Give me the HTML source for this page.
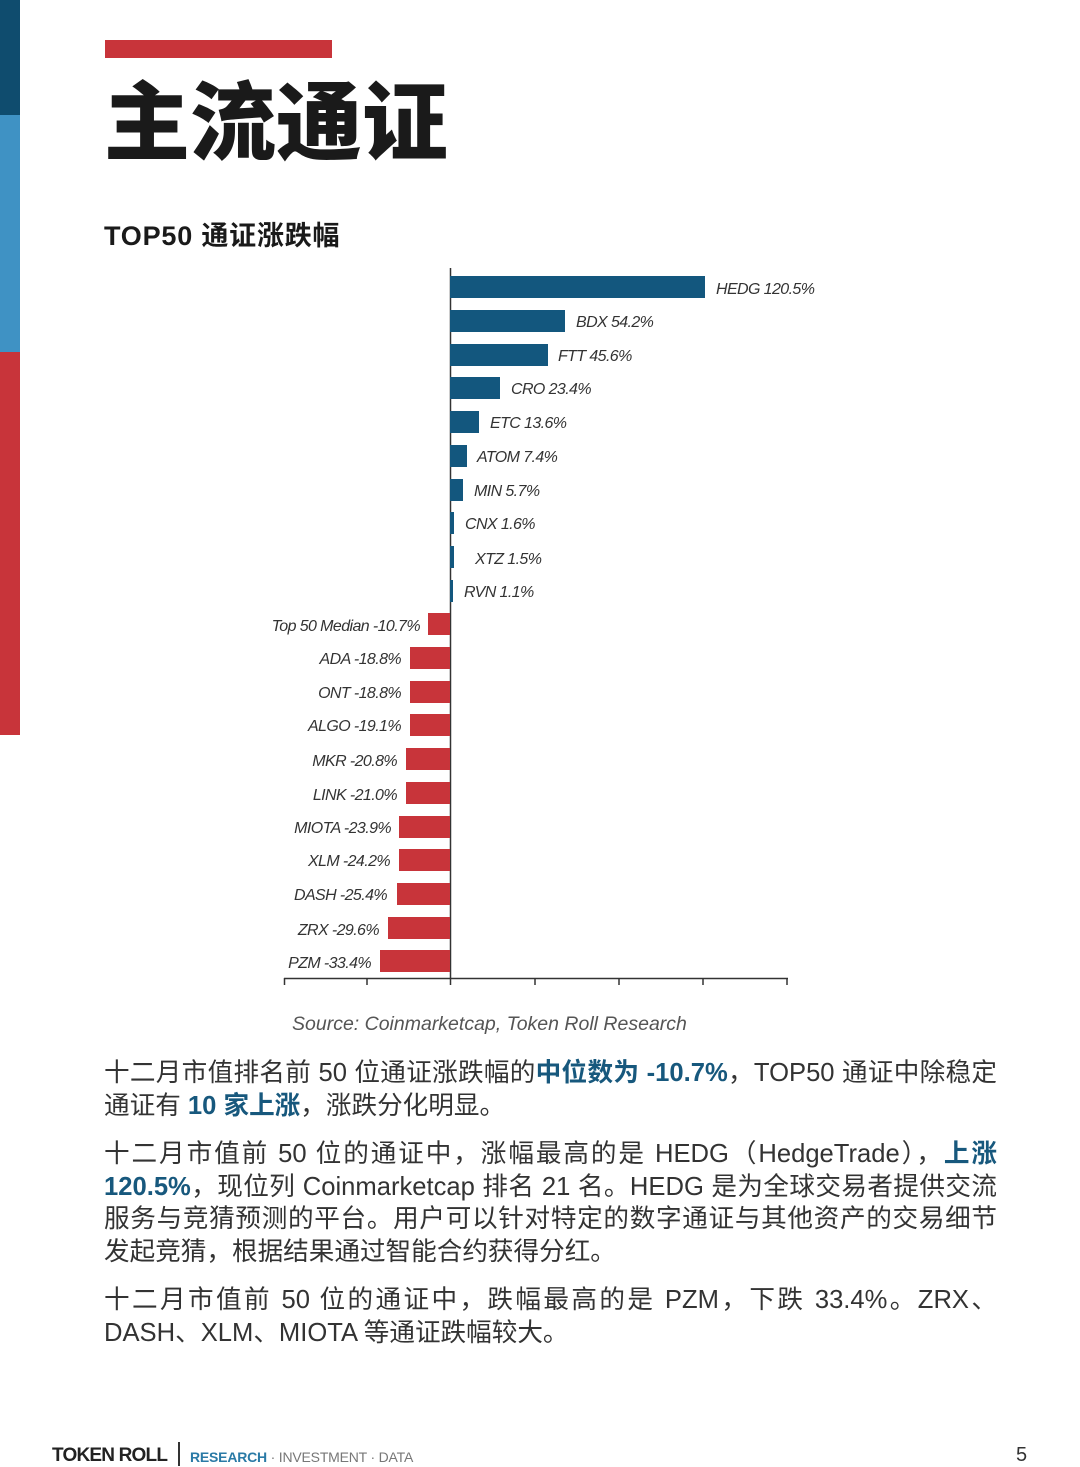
<!DOCTYPE html>
<html><head><meta charset="utf-8"><style>
body{margin:0;background:#fff;}
#p{position:relative;width:1080px;height:1467px;overflow:hidden;background:#fff;font-family:"Liberation Sans","Noto Sans CJK SC",sans-serif;}
.a{position:absolute;}
.t{position:absolute;left:104px;width:893px;font-size:25.6px;line-height:32.5px;color:#333;text-align:justify;}
.t b{color:#17587d;}
.j{display:block;text-align-last:justify;}
</style></head><body><div id="p">
<div class="a" style="left:0;top:0;width:20px;height:115px;background:#0f4c6e"></div>
<div class="a" style="left:0;top:115px;width:20px;height:237px;background:#3f92c4"></div>
<div class="a" style="left:0;top:352px;width:20px;height:383px;background:#c8343a"></div>
<div class="a" style="left:105px;top:40px;width:227px;height:18px;background:#c8343a"></div>
<div class="a" style="left:104px;top:66px;font-size:86px;font-weight:900;color:#1a1a1a;line-height:100px;font-family:'Noto Sans CJK SC',sans-serif;letter-spacing:0px">主流通证</div>
<div class="a" style="left:104px;top:214px;font-size:27px;font-weight:700;color:#1a1a1a;letter-spacing:0.8px;font-family:'Liberation Sans','Noto Sans CJK SC',sans-serif">TOP50 通证涨跌幅</div>
<svg class="a" style="left:0;top:0" width="1080" height="1467">
<line x1="450.5" y1="268" x2="450.5" y2="978" stroke="#333" stroke-width="1.5"/>
<line x1="284" y1="978.5" x2="788" y2="978.5" stroke="#333" stroke-width="1.5"/>
<g stroke="#333" stroke-width="1.5">
<line x1="284.5" y1="978" x2="284.5" y2="985"/><line x1="367" y1="978" x2="367" y2="985"/><line x1="450.5" y1="978" x2="450.5" y2="985"/><line x1="535" y1="978" x2="535" y2="985"/><line x1="619" y1="978" x2="619" y2="985"/><line x1="703" y1="978" x2="703" y2="985"/><line x1="787" y1="978" x2="787" y2="985"/>
</g>
<g font-family="Liberation Sans,sans-serif" font-style="italic" font-size="16" letter-spacing="-0.6" fill="#333">
<rect x="450" y="276" width="255" height="22" fill="#13577e"/><text x="716" y="294">HEDG 120.5%</text>
<rect x="450" y="310" width="115" height="22" fill="#13577e"/><text x="576" y="327">BDX 54.2%</text>
<rect x="450" y="344" width="98" height="22" fill="#13577e"/><text x="558" y="361">FTT 45.6%</text>
<rect x="450" y="377" width="50" height="22" fill="#13577e"/><text x="511" y="394">CRO 23.4%</text>
<rect x="450" y="411" width="29" height="22" fill="#13577e"/><text x="490" y="428">ETC 13.6%</text>
<rect x="450" y="445" width="17" height="22" fill="#13577e"/><text x="477" y="462">ATOM 7.4%</text>
<rect x="450" y="479" width="13" height="22" fill="#13577e"/><text x="474" y="496">MIN 5.7%</text>
<rect x="450" y="512" width="4" height="22" fill="#13577e"/><text x="465" y="529">CNX 1.6%</text>
<rect x="450" y="546" width="4" height="22" fill="#13577e"/><text x="475" y="564">XTZ 1.5%</text>
<rect x="450" y="580" width="3" height="22" fill="#13577e"/><text x="464" y="597">RVN 1.1%</text>
<g text-anchor="end">
<rect x="428" y="613" width="22" height="22" fill="#c8343a"/><text x="420" y="631">Top 50 Median -10.7%</text>
<rect x="410" y="647" width="40" height="22" fill="#c8343a"/><text x="401" y="664">ADA -18.8%</text>
<rect x="410" y="681" width="40" height="22" fill="#c8343a"/><text x="401" y="698">ONT -18.8%</text>
<rect x="410" y="714" width="40" height="22" fill="#c8343a"/><text x="401" y="731">ALGO -19.1%</text>
<rect x="406" y="748" width="44" height="22" fill="#c8343a"/><text x="397" y="766">MKR -20.8%</text>
<rect x="406" y="782" width="44" height="22" fill="#c8343a"/><text x="397" y="800">LINK -21.0%</text>
<rect x="399" y="816" width="51" height="22" fill="#c8343a"/><text x="391" y="833">MIOTA -23.9%</text>
<rect x="399" y="849" width="51" height="22" fill="#c8343a"/><text x="390" y="866">XLM -24.2%</text>
<rect x="397" y="883" width="53" height="22" fill="#c8343a"/><text x="387" y="900">DASH -25.4%</text>
<rect x="388" y="917" width="62" height="22" fill="#c8343a"/><text x="379" y="935">ZRX -29.6%</text>
<rect x="380" y="950" width="70" height="22" fill="#c8343a"/><text x="371" y="968">PZM -33.4%</text>
</g>
</g>
<text x="292" y="1030" font-family="Liberation Sans,sans-serif" font-style="italic" font-size="19.5" fill="#555">Source: Coinmarketcap, Token Roll Research</text>
</svg>
<div class="t" style="top:1057px"><span class="j">十二月市值排名前 50 位通证涨跌幅的<b>中位数为 -10.7%</b>，TOP50 通证中除稳定</span>通证有 <b>10 家上涨</b>，涨跌分化明显。</div>
<div class="t" style="top:1138px">十二月市值前 50 位的通证中，涨幅最高的是 HEDG（HedgeTrade），<b>上涨 120.5%</b>，现位列 Coinmarketcap 排名 21 名。HEDG 是为全球交易者提供交流服务与竞猜预测的平台。用户可以针对特定的数字通证与其他资产的交易细节发起竞猜，根据结果通过智能合约获得分红。</div>
<div class="t" style="top:1284px"><span class="j">十二月市值前 50 位的通证中，跌幅最高的是 PZM，下跌 33.4%。ZRX、</span>DASH、XLM、MIOTA 等通证跌幅较大。</div>
<div class="a" style="left:52px;top:1445px;font-size:19px;font-weight:700;color:#222;letter-spacing:-0.8px;font-family:'Liberation Sans',sans-serif">TOKEN ROLL</div>
<div class="a" style="left:178px;top:1442px;width:2px;height:24px;background:#333"></div>
<div class="a" style="left:190px;top:1449px;font-size:14px;color:#777;letter-spacing:-0.2px;font-family:'Liberation Sans',sans-serif"><span style="color:#2a7aa6;font-weight:700">RESEARCH</span> · INVESTMENT · DATA</div>
<div class="a" style="left:1016px;top:1444px;font-size:20px;color:#333">5</div>
</div></body></html>
